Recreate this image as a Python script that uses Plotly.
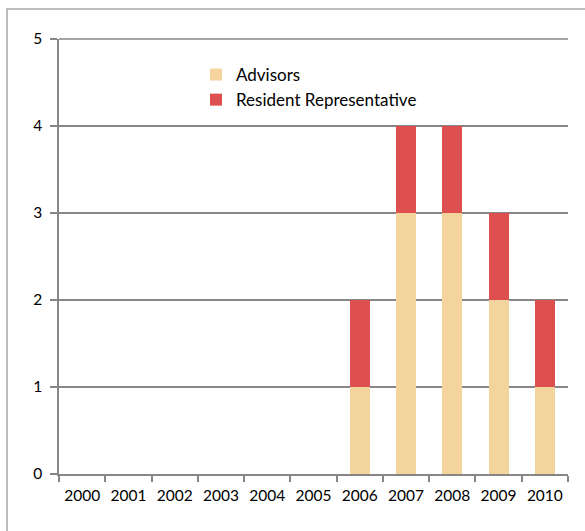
import plotly.graph_objects as go

years = ["2000", "2001", "2002", "2003", "2004", "2005", "2006", "2007", "2008", "2009", "2010"]
advisors = [0, 0, 0, 0, 0, 0, 1, 3, 3, 2, 1]
resident_rep = [0, 0, 0, 0, 0, 0, 1, 1, 1, 1, 1]
y_ticks = [0, 1, 2, 3, 4, 5]

W, H = 585, 531
L, R, T, B = 59, 568, 39, 474

fig = go.Figure()
fig.add_trace(go.Bar(x=years, y=advisors, name="Advisors",
                     marker=dict(color="#F4D49D", line=dict(width=0))))
fig.add_trace(go.Bar(x=years, y=resident_rep, name="Resident Representative",
                     marker=dict(color="#DE4F4F", line=dict(width=0))))

pw, ph = R - L, B - T
fig.add_shape(type="rect", xref="paper", yref="paper",
              x0=(7 - L) / pw, x1=(600 - L) / pw,
              y0=(B - 545) / ph, y1=(B - 9) / ph,
              line=dict(color="#A6A6A6", width=1.5), fillcolor="rgba(0,0,0,0)", layer="below")
# top gridline at the range maximum (range top == paper top of the plot area)
fig.add_shape(type="line", xref="paper", yref="paper", x0=0, x1=1, y0=1, y1=1,
              line=dict(color="#868686", width=1.5), layer="below")

fig.update_layout(
    width=W, height=H,
    margin=dict(l=L, r=W - R, t=T, b=H - B, pad=0, autoexpand=False),
    barmode="stack", bargap=0.57,
    paper_bgcolor="white", plot_bgcolor="white",
    font=dict(family="Lato, Open Sans, sans-serif", size=15.5, color="black"),
    showlegend=True,
    legend=dict(x=(196 - L) / pw, y=(B - 57) / ph, xanchor="left", yanchor="top",
                traceorder="normal", font=dict(size=17), bgcolor="rgba(0,0,0,0)",
                itemwidth=30, tracegroupgap=0),
    xaxis=dict(type="category", tickson="boundaries", ticks="outside", ticklen=6,
               tickcolor="#868686", tickwidth=1.5, showline=True, linecolor="#868686",
               linewidth=1.5, showgrid=False, tickfont=dict(size=15.5), tickangle=0,
               ticklabelstandoff=7, automargin=False),
    yaxis=dict(range=[0, max(y_ticks)], tickvals=y_ticks, ticks="outside", ticklen=7,
               tickcolor="#868686", tickwidth=1.5, showline=True, linecolor="#868686",
               linewidth=1.5, showgrid=True, gridcolor="#868686", gridwidth=1.5,
               zeroline=False, tickfont=dict(size=15.5), ticklabelstandoff=5,
               automargin=False),
)

fig.write_html("out.html", config={"displayModeBar": False},
               post_script="document.body.style.margin='0px';document.body.style.overflow='hidden';")
